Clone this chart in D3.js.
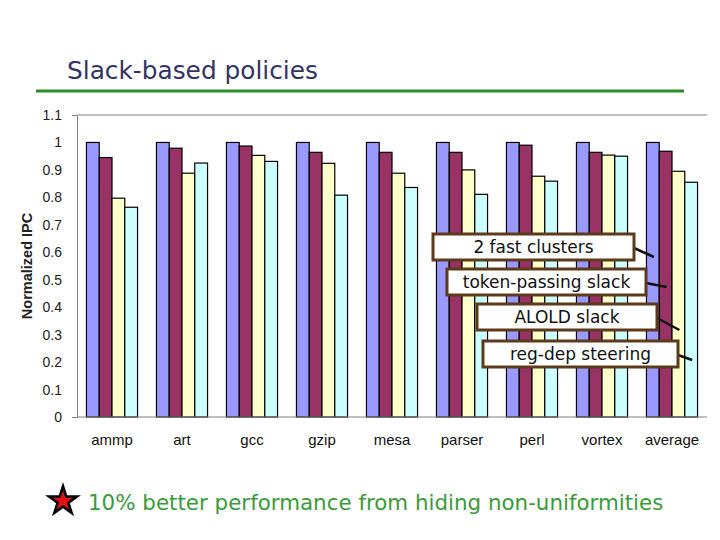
<!DOCTYPE html>
<html>
<head>
<meta charset="utf-8">
<script src="https://cdn.jsdelivr.net/npm/d3@7"></script>
<style>
  body { margin: 0; background: #fff; }
  svg { display: block; }
</style>
</head>
<body>
<svg id="chart" width="720" height="540"></svg>
<script>
// benchmarks on the x axis
var categories = ["ammp", "art", "gcc", "gzip", "mesa", "parser", "perl", "vortex", "average"];

// one array per policy, normalized IPC
var fastClusters   = [1.000, 1.000, 1.000, 1.000, 1.000, 1.000, 1.000, 1.000, 1.000];
var tokenPassing   = [0.945, 0.979, 0.987, 0.964, 0.964, 0.964, 0.990, 0.964, 0.968];
var aloldSlack     = [0.797, 0.888, 0.953, 0.924, 0.888, 0.900, 0.877, 0.954, 0.895];
var regDepSteering = [0.764, 0.925, 0.931, 0.808, 0.836, 0.811, 0.859, 0.950, 0.855];

var seriesNames = ["2 fast clusters", "token-passing slack", "ALOLD slack", "reg-dep steering"];
var yTicks = [0, 0.1, 0.2, 0.3, 0.4, 0.5, 0.6, 0.7, 0.8, 0.9, 1, 1.1];

var series = [
  { key: seriesNames[0], values: fastClusters,   color: "#9999ff" },
  { key: seriesNames[1], values: tokenPassing,   color: "#993366" },
  { key: seriesNames[2], values: aloldSlack,     color: "#ffffcc" },
  { key: seriesNames[3], values: regDepSteering, color: "#ccffff" }
];

var svg = d3.select("#chart");

// plot area edges (note: "top" would clash with window.top)
var plotL = 77, plotR = 707, plotT = 115, plotB = 417;

var x = d3.scaleBand()
  .domain(categories)
  .range([plotL, plotR])
  .paddingInner(0.27)
  .paddingOuter(0.135);

var xs = d3.scaleBand()
  .domain(seriesNames)
  .range([0, x.bandwidth()]);

var y = d3.scaleLinear()
  .domain([0, 1.1])
  .range([plotB, plotT]);

// title + green rule
svg.append("text")
  .attr("x", 67).attr("y", 79)
  .attr("font-family", "DejaVu Sans, Verdana, sans-serif")
  .attr("font-size", 24.8)
  .attr("fill", "#333366")
  .text("Slack-based policies");

svg.append("line")
  .attr("x1", 36).attr("x2", 684)
  .attr("y1", 91).attr("y2", 91)
  .attr("stroke", "#2e8b2e")
  .attr("stroke-width", 3);

// top border line of plot area
svg.append("line")
  .attr("x1", plotL).attr("x2", plotR)
  .attr("y1", y(1.1)).attr("y2", y(1.1))
  .attr("stroke", "#808080");

// bars
var groups = svg.append("g").selectAll("g")
  .data(series)
  .join("g")
  .attr("fill", function(d) { return d.color; });

groups.selectAll("rect")
  .data(function(s) {
    return s.values.map(function(v, i) { return { key: s.key, cat: categories[i], value: v }; });
  })
  .join("rect")
  .attr("x", function(d) { return x(d.cat) + xs(d.key); })
  .attr("y", function(d) { return y(d.value); })
  .attr("width", xs.bandwidth())
  .attr("height", function(d) { return y(0) - y(d.value); })
  .attr("stroke", "#000")
  .attr("stroke-width", 1.2);

// y axis
var yAxis = svg.append("g")
  .attr("transform", "translate(" + plotL + ",0)")
  .call(d3.axisLeft(y).tickValues(yTicks).tickSize(0).tickPadding(15)
    .tickFormat(function(d) { return d3.format("~g")(d); }));

yAxis.select(".domain").attr("stroke", "#808080");
yAxis.selectAll("text")
  .attr("font-family", "Liberation Sans, Arial, sans-serif")
  .attr("font-size", 14)
  .attr("fill", "#222");
yAxis.selectAll(".tick")
  .filter(function(d) { return d === 0 || d === 1.1; })
  .select("line")
  .attr("x2", -5)
  .attr("stroke", "#808080");

svg.append("line")
  .attr("x1", plotL).attr("x2", plotR)
  .attr("y1", y(0)).attr("y2", y(0))
  .attr("stroke", "#808080");

// x labels
svg.append("g").selectAll("text")
  .data(categories)
  .join("text")
  .attr("x", function(d) { return x(d) + x.bandwidth() / 2; })
  .attr("y", 445)
  .attr("text-anchor", "middle")
  .attr("font-family", "Liberation Sans, Arial, sans-serif")
  .attr("font-size", 15)
  .attr("fill", "#111")
  .text(function(d) { return d; });

// y axis title
svg.append("text")
  .attr("transform", "translate(32,266) rotate(-90)")
  .attr("text-anchor", "middle")
  .attr("font-family", "Liberation Sans, Arial, sans-serif")
  .attr("font-weight", "bold")
  .attr("font-size", 14.5)
  .attr("fill", "#222")
  .text("Normalized IPC");

// callout legend boxes pointing at the "average" bars
var boxes = [
  { x: 433, y: 234, w: 201 },
  { x: 447, y: 269, w: 199 },
  { x: 477, y: 304, w: 180 },
  { x: 483, y: 341, w: 195 }
];
var leaderEndY = [257, 287, 330, 360];

var legend = svg.append("g").selectAll("g")
  .data(series)
  .join("g");

legend.append("line")
  .attr("x1", function(d, i) { return boxes[i].x + boxes[i].w; })
  .attr("y1", function(d, i) { return boxes[i].y + 14; })
  .attr("x2", function(d) { return x("average") + xs(d.key) + xs.bandwidth() / 2 + 1; })
  .attr("y2", function(d, i) { return leaderEndY[i]; })
  .attr("stroke", "#111")
  .attr("stroke-width", 2.5);

legend.append("rect")
  .attr("x", function(d, i) { return boxes[i].x; })
  .attr("y", function(d, i) { return boxes[i].y; })
  .attr("width", function(d, i) { return boxes[i].w; })
  .attr("height", 26)
  .attr("fill", "#fff")
  .attr("stroke", "#5c3a1a")
  .attr("stroke-width", 3);

legend.append("text")
  .attr("x", function(d, i) { return boxes[i].x + boxes[i].w / 2; })
  .attr("y", function(d, i) { return boxes[i].y + 19; })
  .attr("text-anchor", "middle")
  .attr("font-family", "DejaVu Sans, Verdana, sans-serif")
  .attr("font-size", 17)
  .attr("fill", "#111")
  .text(function(d) { return d.key; });

// bottom bullet star + note
svg.append("path")
  .attr("transform", "translate(63,501)")
  .attr("d", d3.symbol(d3.symbolStar, 400)())
  .attr("fill", "#000");
svg.append("path")
  .attr("transform", "translate(63,501)")
  .attr("d", d3.symbol(d3.symbolStar, 125)())
  .attr("fill", "#e01010");

svg.append("text")
  .attr("x", 88).attr("y", 510)
  .attr("font-family", "DejaVu Sans, Verdana, sans-serif")
  .attr("font-size", 21.4)
  .attr("fill", "#3a9a3a")
  .text("10% better performance from hiding non-uniformities");
</script>
</body>
</html>
